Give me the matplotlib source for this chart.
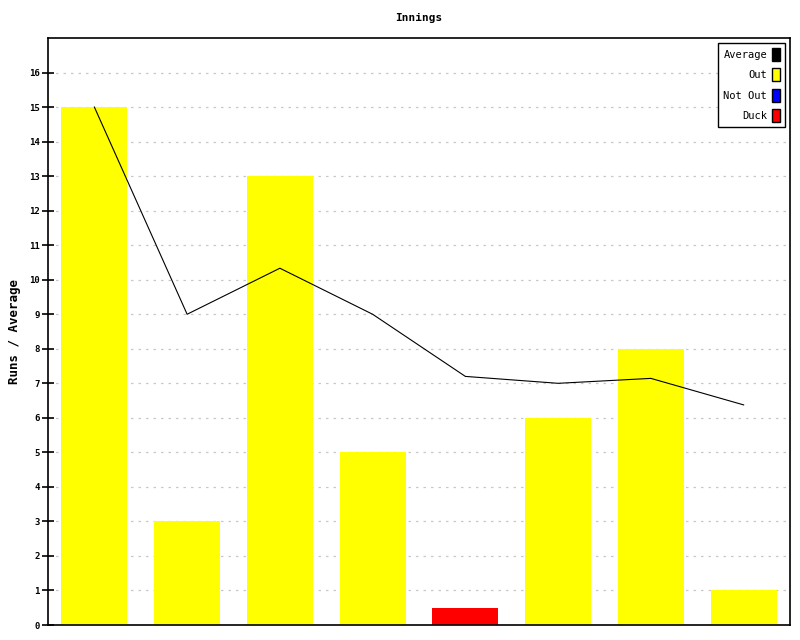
import matplotlib
matplotlib.use('Agg')
import matplotlib.pyplot as plt
from matplotlib.patches import Patch
import numpy as np

# innings data
runs = [15, 3, 13, 5, 0, 6, 8, 1]
status = ['Out', 'Out', 'Out', 'Out', 'Duck', 'Out', 'Out', 'Out']
average = [15.0, 9.0, 10.333, 9.0, 7.2, 7.0, 7.143, 6.375]
duck_height = 0.5

colors = {'Out': '#ffff00', 'Not Out': '#0000ff', 'Duck': '#ff0000'}

plt.rcParams['font.family'] = ['DejaVu Sans Mono']

fig = plt.figure(figsize=(8, 6.4), dpi=100)
ax = fig.add_axes([0.06, 0.0234, 0.9275, 0.9172])

x = np.arange(len(runs))
heights = [duck_height if s == 'Duck' else r for r, s in zip(runs, status)]
ax.bar(x, heights, width=0.71, color=[colors[s] for s in status], zorder=2)
ax.plot(x, average, color='black', linewidth=0.8, zorder=3)

ax.set_xlim(-0.5, len(runs) - 0.5)
ax.set_ylim(0, 17)
ax.set_yticks(range(0, 17))
ax.set_xticks([])
ax.tick_params(axis='y', direction='inout', length=8, width=1.2, labelsize=6.5, pad=2)
for lbl in ax.get_yticklabels():
    lbl.set_fontweight('bold')
ax.yaxis.grid(True, linestyle=(0, (2, 4)), color='#c8c8c8', linewidth=0.9, zorder=0)
for sp in ax.spines.values():
    sp.set_linewidth(1.2)

ax.set_title('Innings', fontsize=8, fontweight='bold', pad=12)
ax.set_ylabel('Runs / Average', fontsize=9, fontweight='bold', labelpad=6)

handles = [Patch(facecolor='black', edgecolor='black', label='Average'),
           Patch(facecolor=colors['Out'], edgecolor='black', label='Out'),
           Patch(facecolor=colors['Not Out'], edgecolor='black', label='Not Out'),
           Patch(facecolor=colors['Duck'], edgecolor='black', label='Duck')]
leg = ax.legend(handles=handles, loc='upper right', markerfirst=False, fontsize=7.5,
                handlelength=0.75, handleheight=1.5, handletextpad=0.5, labelspacing=0.75,
                fancybox=False, framealpha=1, edgecolor='black', borderpad=0.5,
                borderaxespad=0.45)
leg.get_frame().set_linewidth(1)

fig.savefig('out.png', dpi=100)
